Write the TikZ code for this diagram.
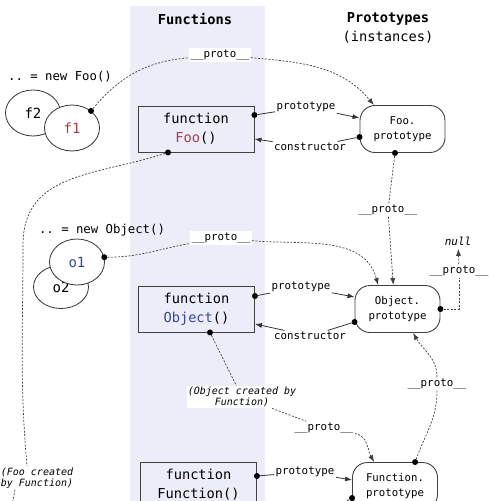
\documentclass[tikz,border=0pt]{standalone}
\usepackage{fontspec}
\setmainfont{DejaVu Sans}
\setmonofont{DejaVu Sans Mono}
\usepackage{xcolor}
\usetikzlibrary{arrows.meta, positioning, shapes.geometric}

\definecolor{bandbg}{RGB}{237,237,250}
\definecolor{foored}{RGB}{176,58,72}
\definecolor{objblue}{RGB}{52,72,150}
\newcommand{\monofont}[2]{\fontsize{#1}{#2}\selectfont\ttfamily}

\begin{document}
\begin{tikzpicture}[
    x=1pt, y=1pt,
    fnbox/.style={draw=black!75, line width=0.9pt, minimum width=116pt, minimum height=46pt, align=center, font=\monofont{13.7}{19}},
    protobox/.style={draw=black!75, line width=0.9pt, rounded corners=15pt, minimum width=85pt, minimum height=47pt, align=center, font=\monofont{10.7}{15}},
    obj/.style={ellipse, draw=black!80, line width=0.8pt, fill=white, minimum width=55pt, minimum height=46pt, inner sep=0pt, font=\monofont{14}{16}},
    lbl/.style={fill=white, inner sep=1.5pt, font=\monofont{10.8}{13}},
    note/.style={fill=white, inner sep=1pt, align=center, font=\monofont{10}{11.5}\itshape},
    head/.style={align=center, font=\monofont{13.7}{19}},
    newtext/.style={font=\monofont{12.3}{14}},
    dot/.style={circle, fill=black, inner sep=0pt, minimum size=6pt},
    wire/.style={line width=0.8pt, black!80},
    link/.style={wire, -{Latex[length=7pt,width=5pt]}},
    plink/.style={dash pattern=on 2pt off 1.5pt, line width=0.7pt, black!75},
    pto/.style={plink, -{Latex[length=7pt,width=5pt]}}
]
    \useasboundingbox (0,0) rectangle (488,-501);
    \fill[bandbg] (130,-6) rectangle (265,-501);

    % headings
    \node[head] (fnhead) at (195,-19) {\bfseries Functions};
    \node[head] (protohead) at (388,-27.5) {\textbf{Prototypes}\\(instances)};

    % Foo row
    \node[newtext] (newfoo) at (60,-77) {.. = new Foo()};
    \node[obj] (f2) at (33,-113) {f2};
    \node[obj, text=foored] (f1) at (72,-128) {f1};
    \node[fnbox] (fooFn) at (196,-129) {function\\\textcolor{foored}{Foo}()};
    \node[protobox] (fooProto) at (402.5,-129) {Foo.\\prototype};

    % Object row
    \node[newtext] (newobj) at (102,-230) {.. = new Object()};
    \node[obj, minimum height=43pt] (o2) at (61,-287) {o2};
    \node[obj, text=objblue] (o1) at (77,-262) {o1};
    \node[fnbox] (objFn) at (196.5,-309) {function\\\textcolor{objblue}{Object}()};
    \node[protobox] (objProto) at (397.5,-309) {Object.\\prototype};
    \node[font=\monofont{11}{13}\itshape] (null) at (458,-241) {null};

    % Function row
    \node[fnbox] (fnFn) at (198.5,-485) {function\\Function()};
    \node[protobox] (fnProto) at (395,-486) {Function.\\prototype};

    % labels
    \node[lbl] (fooProtoLbl) at (220,-55) {\_\_proto\_\_};
    \node[lbl] (fooPLbl) at (306,-107) {prototype};
    \node[lbl] (fooCLbl) at (310,-147) {constructor};
    \node[lbl] (fooDownLbl) at (388,-210) {\_\_proto\_\_};
    \node[lbl] (objProtoLbl) at (221,-238) {\_\_proto\_\_};
    \node[lbl] (objPLbl) at (301,-287) {prototype};
    \node[lbl] (objCLbl) at (310,-336) {constructor};
    \node[lbl] (nullLbl) at (459,-271) {\_\_proto\_\_};
    \node[note] (objNote) at (242,-397) {(Object created by\\Function)};
    \node[lbl] (objFnLbl) at (324,-428) {\_\_proto\_\_};
    \node[lbl] (fnUpLbl) at (437,-384) {\_\_proto\_\_};
    \node[lbl] (fnPLbl) at (305,-472) {prototype};
    \node[note] (fooNote) at (37,-478) {(Foo created\\by Function)};

    % dots
    \node[dot] (f1dot) at (f1.42) {};
    \node[dot] (fooPdot) at ([yshift=14pt]fooFn.east) {};
    \node[dot] (fooCdot) at ([yshift=-8pt]fooProto.west) {};
    \node[dot] (fooDdot) at ([xshift=-7.5pt]fooProto.south) {};
    \node[dot] (fooFdot) at ([xshift=-28pt]fooFn.south) {};
    \node[dot] (o1dot) at (o1.10) {};
    \node[dot] (objPdot) at ([yshift=13pt]objFn.east) {};
    \node[dot] (objCdot) at ([yshift=-13pt]objProto.west) {};
    \node[dot] (nulldot) at (objProto.east) {};
    \node[dot] (objFdot) at ([xshift=13.5pt]objFn.south) {};
    \node[dot] (fnUdot) at (fnProto.50) {};
    \node[dot] (fnPdot) at ([yshift=9pt]fnFn.east) {};
    \node[dot] (fnCdot) at ([yshift=-12pt]fnProto.west) {};

    \coordinate (fooBend) at (23,-245);
    \coordinate (fooExit) at (12,-506);
    \coordinate (fnCend) at (335,-508);

    % Foo links
    \draw[plink] (f1dot) to[out=50,in=185] (fooProtoLbl);
    \draw[pto] (fooProtoLbl) to[out=-5,in=130] (fooProto.140);
    \draw[wire] (fooPdot) -- (fooPLbl);
    \draw[link] (fooPLbl) -- ([yshift=11pt]fooProto.west);
    \draw[wire] (fooCdot) -- (fooCLbl);
    \draw[link] (fooCLbl) -- ([yshift=-10pt]fooFn.east);
    \draw[plink] (fooDdot) -- (fooDownLbl);
    \draw[pto] (fooDownLbl) -- (objProto.100);
    \draw[plink] (fooFdot) to[out=-162,in=90,looseness=1.1] (fooBend) to[out=-90,in=95] ([xshift=-10pt]fooNote.north);
    \draw[plink] ([xshift=-22pt]fooNote.south) -- (fooExit);

    % Object links
    \draw[plink] (o1dot) to[out=0,in=190] (objProtoLbl);
    \draw[pto] (objProtoLbl) to[out=-5,in=105] (objProto.129);
    \draw[wire] (objPdot) -- (objPLbl);
    \draw[link] (objPLbl) -- ([yshift=12pt]objProto.west);
    \draw[wire] (objCdot) -- (objCLbl);
    \draw[link] (objCLbl) -- ([yshift=-15pt]objFn.east);
    \draw[plink] (nulldot) -| (nullLbl);
    \draw[pto] (nullLbl) -- (null);
    \draw[plink] (objFdot) -- (objNote);
    \draw[plink] (objNote) -- (objFnLbl);
    \draw[pto] (objFnLbl) to[out=-10,in=120] (fnProto.131);

    % Function links
    \draw[plink] (fnUdot) to[out=70,in=-90] (fnUpLbl);
    \draw[pto] (fnUpLbl) to[out=90,in=-60] (objProto.-57);
    \draw[wire] (fnPdot) -- (fnPLbl);
    \draw[link] (fnPLbl) -- ([yshift=6pt]fnProto.west);
    \draw[wire] (fnCdot) -- (fnCend);
\end{tikzpicture}
\end{document}
